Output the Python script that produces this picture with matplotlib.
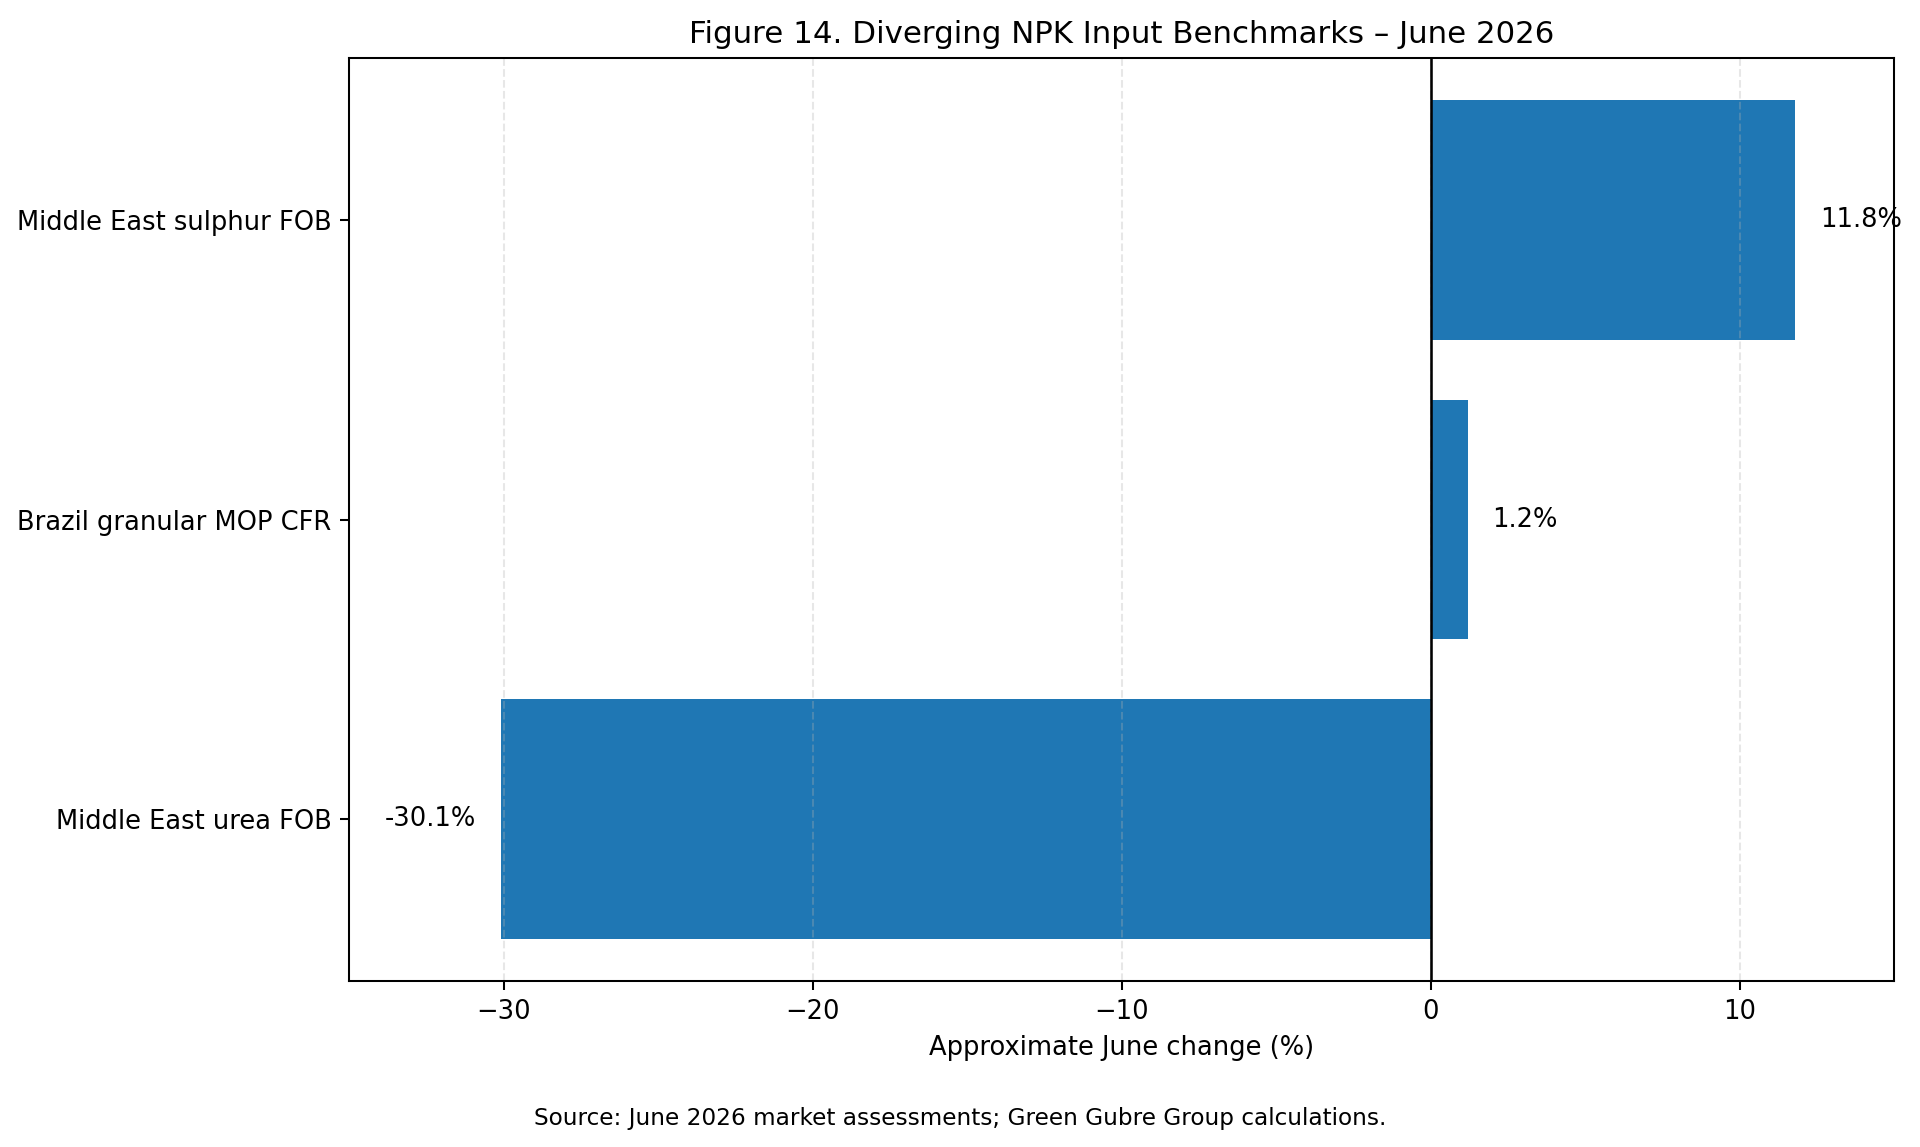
import matplotlib
matplotlib.use("Agg")
import matplotlib.pyplot as plt

# Data
benchmarks = ["Middle East urea FOB", "Brazil granular MOP CFR", "Middle East sulphur FOB"]
changes = [-30.1, 1.2, 11.8]

DPI = 185
fig, ax = plt.subplots(figsize=(1920 / DPI, 1147 / DPI), dpi=DPI)
fig.subplots_adjust(left=0.182, right=0.9865, top=0.9494, bottom=0.1447)

ax.barh(benchmarks, changes, color="#1f77b4", height=0.8)
ax.axvline(0, color="black", linewidth=1)

# Value labels beside each bar
for i, v in enumerate(changes):
    if v >= 0:
        ax.text(v + 0.8, i, f"{v:.1f}%", va="center", ha="left", fontsize=10)
    else:
        ax.text(v - 0.8, i, f"{v:.1f}%", va="center", ha="right", fontsize=10)

ax.set_xlim(-35, 15)
ax.grid(axis="x", linestyle="--", alpha=0.3)
ax.set_xlabel("Approximate June change (%)", fontsize=10)
ax.set_title("Figure 14. Diverging NPK Input Benchmarks \u2013 June 2026", fontsize=12)
ax.tick_params(labelsize=10)

fig.text(0.5, 0.025, "Source: June 2026 market assessments; Green Gubre Group calculations.",
         ha="center", va="center", fontsize=9)

fig.savefig("out.png", dpi=DPI)
